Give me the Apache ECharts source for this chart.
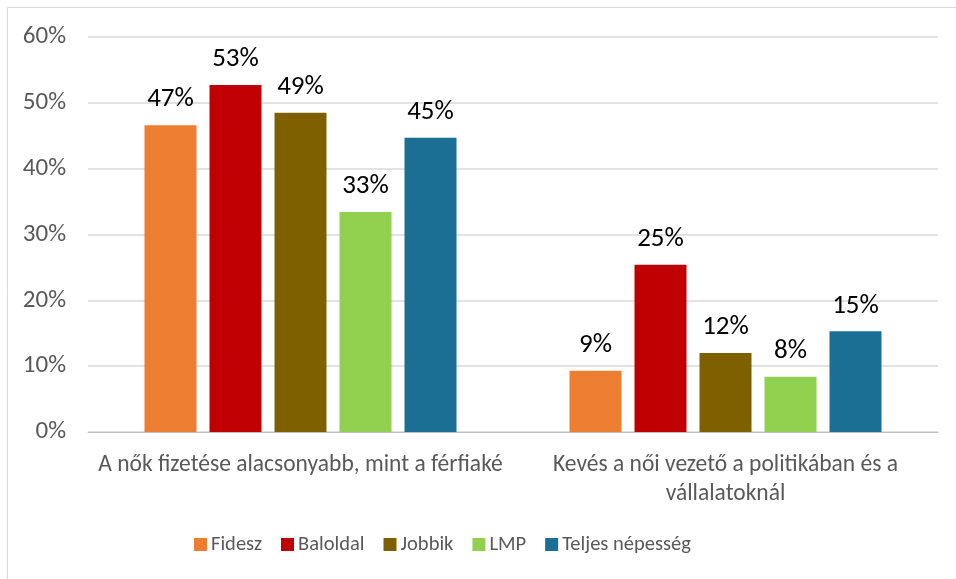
<!DOCTYPE html>
<html>
<head>
<meta charset="utf-8">
<script src="https://cdn.jsdelivr.net/npm/echarts@6/dist/echarts.min.js"></script>
<style>
  html, body { margin: 0; padding: 0; background: #fff; }
  #chart { width: 956px; height: 579px; }
</style>
</head>
<body>
<div id="chart"></div>
<script>
const categories = [
    'A nők fizetése alacsonyabb, mint a férfiaké',
    'Kevés a női vezető a politikában és a\nvállalatoknál'
];
const seriesNames = ['Fidesz', 'Baloldal', 'Jobbik', 'LMP', 'Teljes népesség'];
const seriesColors = ['#ED7D31', '#C00000', '#7F6000', '#92D050', '#1B6F94'];
const fidesz = [46.6, 9.3];
const baloldal = [52.7, 25.4];
const jobbik = [48.5, 12.0];
const lmp = [33.4, 8.4];
const teljes = [44.7, 15.3];
const yTicks = [0, 10, 20, 30, 40, 50, 60];

const values = [fidesz, baloldal, jobbik, lmp, teljes];
const font = 'Carlito, "Liberation Sans Narrow", "Noto Sans", sans-serif';

const chart = echarts.init(document.getElementById('chart'));

chart.setOption({
    animation: false,
    textStyle: { fontFamily: font },
    graphic: [{
        type: 'rect',
        shape: { x: 7.5, y: 7.5, width: 1000, height: 1000 },
        style: { fill: 'none', stroke: '#d9d9d9', lineWidth: 1 },
        silent: true
    }],
    grid: {
        left: 88,
        right: 18,
        top: 37,
        bottom: 147
    },
    legend: {
        bottom: 19,
        left: 189,
        icon: 'rect',
        itemWidth: 13,
        itemHeight: 13,
        itemGap: 19,
        textStyle: { fontSize: 20.5, color: '#595959', fontFamily: font, padding: [0, 0, 0, -1] },
        data: seriesNames
    },
    xAxis: {
        type: 'category',
        data: categories,
        axisLine: { lineStyle: { color: '#bfbfbf', width: 1 } },
        axisTick: { show: false },
        axisLabel: {
            fontSize: 23.5,
            color: '#595959',
            fontFamily: font,
            margin: 19,
            lineHeight: 29,
            interval: 0,
            hideOverlap: false
        }
    },
    yAxis: {
        type: 'value',
        min: 0,
        max: yTicks[yTicks.length - 1],
        interval: 10,
        axisLine: { show: false },
        axisTick: { show: false },
        splitLine: { lineStyle: { color: '#d9d9d9', width: 1.5 } },
        axisLabel: {
            fontSize: 25,
            color: '#595959',
            fontFamily: font,
            margin: 22,
            formatter: v => v + '%'
        }
    },
    series: seriesNames.map((name, i) => ({
        name: name,
        type: 'bar',
        data: values[i],
        barWidth: 52,
        barGap: '25%',
        itemStyle: { color: seriesColors[i] },
        label: {
            show: true,
            position: 'top',
            distance: 12,
            fontSize: 27,
            color: '#000',
            fontFamily: font,
            formatter: p => Math.round(p.value) + '%'
        }
    }))
});
</script>
</body>
</html>
